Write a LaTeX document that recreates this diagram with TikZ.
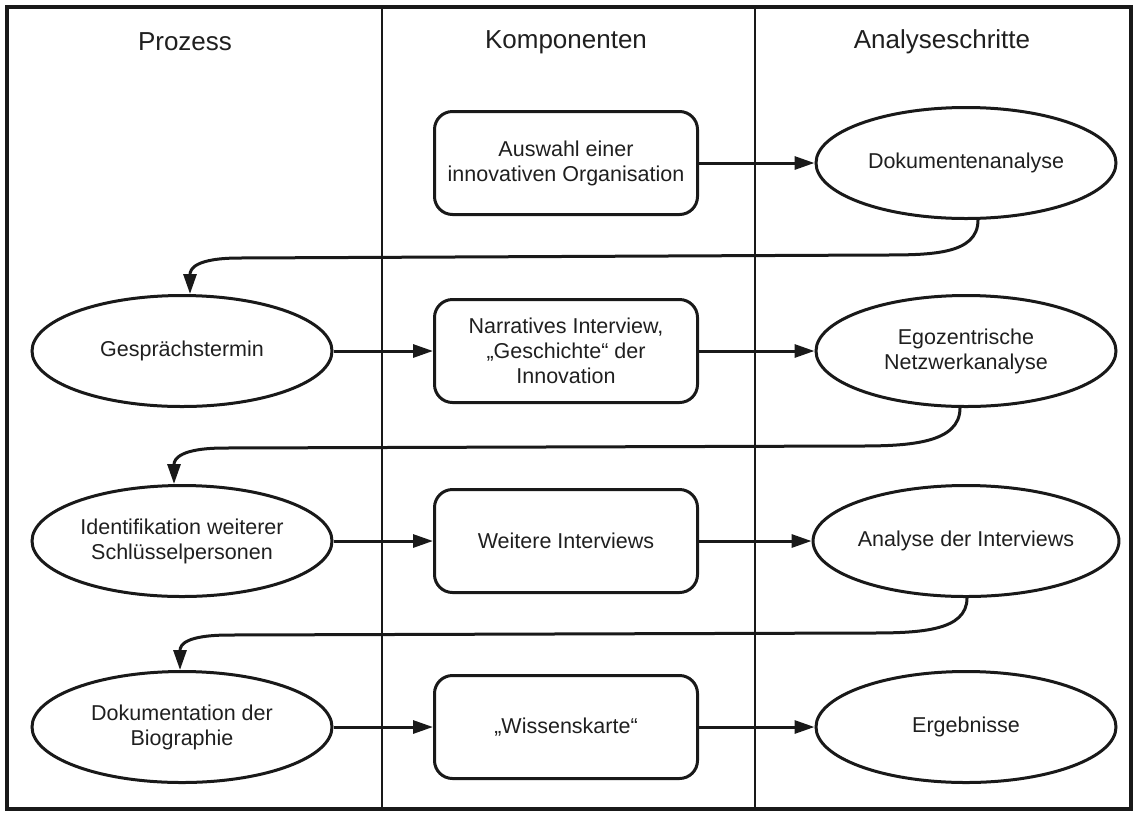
\documentclass[tikz,border=0pt]{standalone}
\usepackage{fontspec}
\setmainfont{Liberation Sans}
\usetikzlibrary{shapes.geometric,arrows.meta}
\begin{document}
\begin{tikzpicture}[x=1pt,y=-1pt,
  every node/.style={font=\fontsize{21.5}{25}\selectfont,text=black!88,align=center},
  stepoval/.style={ellipse,draw=black!90,line width=3pt,minimum width=300pt,minimum height=111pt,inner sep=0pt},
  compbox/.style={rectangle,rounded corners=18pt,draw=black!90,line width=3pt,minimum width=263pt,minimum height=103pt,inner sep=0pt},
  colhead/.style={font=\fontsize{26}{30}\selectfont},
  flow/.style={draw=black!90,line width=3pt,-{Triangle[length=20pt,width=13pt]}}]
\useasboundingbox (0,0) rectangle (1134,812);
\draw[black!90,line width=3.5pt] (7,7) rectangle (1131,809);
\draw[black!90,line width=2.5pt] (382,7) -- (382,809);
\draw[black!90,line width=2.5pt] (755,7) -- (755,809);
\node[colhead] (hproz) at (185,42) {Prozess};
\node[colhead] (hkomp) at (566,42) {Komponenten};
\node[colhead] (hanaly) at (942,42) {Analyseschritte};
\node[compbox] (auswahl) at (566,163) {Auswahl einer\\innovativen Organisation};
\node[stepoval] (dokana) at (966,163) {Dokumentenanalyse};
\node[stepoval] (gespr) at (182,351) {Gesprächstermin};
\node[compbox] (narrativ) at (566,351) {Narratives Interview,\\„Geschichte“ der\\Innovation};
\node[stepoval] (egonetz) at (966,351) {Egozentrische\\Netzwerkanalyse};
\node[stepoval] (identif) at (182,541) {Identifikation weiterer\\Schlüsselpersonen};
\node[compbox] (weitere) at (566,541) {Weitere Interviews};
\node[stepoval] (analyse) at (966,541) {Analyse der Interviews};
\node[stepoval] (dokubio) at (182,727) {Dokumentation der\\Biographie};
\node[compbox] (wissen) at (566,727) {„Wissenskarte“};
\node[stepoval] (ergeb) at (966,727) {Ergebnisse};
\coordinate (r1) at (880,255);
\coordinate (l1) at (240,258);
\coordinate (r2) at (860,446);
\coordinate (l2) at (225,448);
\coordinate (r3) at (870,633);
\coordinate (l3) at (230,635);
\draw[flow] (auswahl) -- (dokana);
\draw[flow] ([xshift=12pt]dokana.south) .. controls +(0,35) and +(50,0) .. (r1) -- (l1) .. controls +(-45,0) and +(0,-25) .. ([xshift=8pt]gespr.north);
\draw[flow] (gespr) -- (narrativ);
\draw[flow] (narrativ) -- (egonetz);
\draw[flow] ([xshift=-6pt]egonetz.south) .. controls +(0,35) and +(50,0) .. (r2) -- (l2) .. controls +(-45,0) and +(0,-25) .. ([xshift=-8pt]identif.north);
\draw[flow] (identif) -- (weitere);
\draw[flow] (weitere) -- (analyse);
\draw[flow] ([xshift=1pt]analyse.south) .. controls +(0,33) and +(50,0) .. (r3) -- (l3) .. controls +(-45,0) and +(0,-25) .. ([xshift=-2pt]dokubio.north);
\draw[flow] (dokubio) -- (wissen);
\draw[flow] (wissen) -- (ergeb);
\end{tikzpicture}
\end{document}
